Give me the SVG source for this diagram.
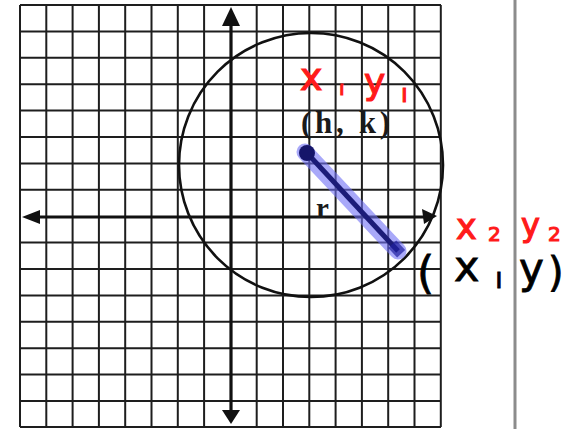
<svg xmlns="http://www.w3.org/2000/svg" width="563" height="429" viewBox="0 0 563 429">
<style>
.grid{stroke:#1e1e1e;stroke-width:2;fill:none}
.axis{stroke:#111;stroke-width:3.2;fill:none}
.head{fill:#111}
.hand{font-family:"DejaVu Sans","Liberation Sans",sans-serif;font-weight:normal}
.red{fill:#ff1a1a;stroke:#ff1a1a;stroke-width:1.2}
.blk{fill:#000;stroke:#000;stroke-width:0.8}
.ser{font-family:"Liberation Serif",serif;font-weight:bold;fill:#1a1a1a}
</style>
<rect width="563" height="429" fill="#fff"/>
<g id="grid">
<path class="grid" d="M20,5V427M46.3,5V427M72.6,5V427M98.9,5V427M125.2,5V427M151.5,5V427M177.8,5V427M204.1,5V427M256.7,5V427M283,5V427M309.3,5V427M335.6,5V427M361.9,5V427M388.2,5V427M414.5,5V427M440.8,5V427"/>
<path class="grid" d="M20,5H441M20,31.4H441M20,57.8H441M20,84.2H441M20,110.6H441M20,137H441M20,163.4H441M20,189.8H441M20,242.6H441M20,269H441M20,295.4H441M20,321.8H441M20,348.2H441M20,374.6H441M20,401H441M20,427H441"/>
</g>
<g id="axes">
<path class="axis" d="M231,24V410"/>
<path class="axis" d="M38,217H424"/>
<polygon class="head" points="231,7 222,26 240,26"/>
<polygon class="head" points="231,424 222,410 240,410"/>
<polygon class="head" points="22,217 40,210 40,224"/>
<polygon class="head" points="437,216 422,209 424,224"/>
</g>
<g id="circle">
<circle cx="311" cy="165" r="132" fill="none" stroke="#111" stroke-width="2.6"/>
</g>
<g id="radius">
<line x1="305" y1="152" x2="398" y2="251" stroke="#6f6ff5" stroke-opacity="0.6" stroke-width="17" stroke-linecap="round"/>
<line x1="307" y1="153" x2="398" y2="251" stroke="#1c1c78" stroke-width="5"/>
<rect x="391" y="243" width="11" height="13" fill="#2020a0" fill-opacity="0.7" transform="rotate(-43 396 249)"/>
<circle cx="307" cy="153" r="8" fill="#15156a"/>
</g>
<g id="divider">
<line x1="515" y1="0" x2="515" y2="429" stroke="#8c8c8c" stroke-width="3"/>
</g>
<g id="labels">
<text class="ser" x="301" y="133" font-size="31" textLength="89" lengthAdjust="spacing">(h, k)</text>
<text class="ser" x="316" y="218" font-size="29">r</text>
<text class="hand red" x="300" y="90" font-size="38">x</text>
<text class="hand red" x="339" y="95" font-size="20">ı</text>
<text class="hand red" x="364" y="94" font-size="36">y</text>
<text class="hand red" x="401" y="102" font-size="24">ı</text>
<text class="hand red" x="456" y="239" font-size="35">x</text>
<text class="hand red" x="488" y="241" font-size="20">2</text>
<text class="hand red" x="521" y="236" font-size="32">y</text>
<text class="hand red" x="548" y="241" font-size="20">2</text>
<text class="hand blk" x="417" y="288" font-size="44">(</text>
<text class="hand blk" x="454" y="281" font-size="43">x</text>
<text class="hand blk" x="495" y="288" font-size="28">ı</text>
<text class="hand blk" x="519" y="283" font-size="42">y</text>
<text class="hand blk" x="548" y="286" font-size="40">)</text>
</g>
</svg>
